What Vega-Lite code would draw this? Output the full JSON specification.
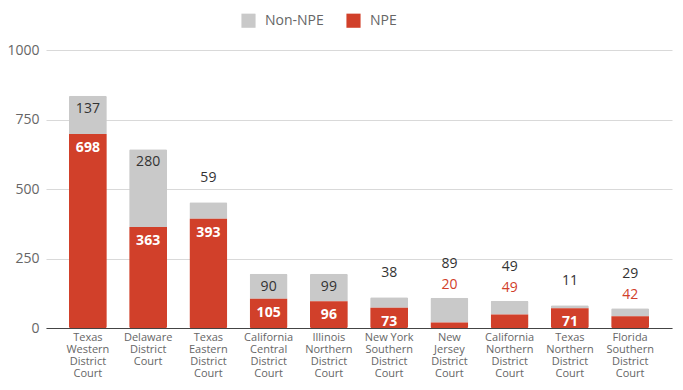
{
  "$schema": "https://vega.github.io/schema/vega-lite/v6.json",
  "width": 683,
  "height": 390,
  "autosize": {"type": "fit", "contains": "padding"},
  "padding": {"left": 6, "right": 11, "top": 43, "bottom": 12},
  "config": {"font": "Open Sans", "view": {"stroke": null}},
  "data": {
    "values": [
      {"court": "Texas Western District Court", "NPE": 698, "Non-NPE": 137},
      {"court": "Delaware District Court", "NPE": 363, "Non-NPE": 280},
      {"court": "Texas Eastern District Court", "NPE": 393, "Non-NPE": 59},
      {"court": "California Central District Court", "NPE": 105, "Non-NPE": 90},
      {"court": "Illinois Northern District Court", "NPE": 96, "Non-NPE": 99},
      {"court": "New York Southern District Court", "NPE": 73, "Non-NPE": 38},
      {"court": "New Jersey District Court", "NPE": 20, "Non-NPE": 89},
      {"court": "California Northern District Court", "NPE": 49, "Non-NPE": 49},
      {"court": "Texas Northern District Court", "NPE": 71, "Non-NPE": 11},
      {"court": "Florida Southern District Court", "NPE": 42, "Non-NPE": 29}
    ]
  },
  "transform": [{"calculate": "datum.NPE + datum['Non-NPE']", "as": "total"}],
  "encoding": {
    "x": {
      "field": "court",
      "type": "nominal",
      "sort": null,
      "scale": {"paddingInner": 0.37, "paddingOuter": 0.38},
      "axis": {
        "title": null,
        "labelAngle": 0,
        "labelColor": "#666666",
        "labelFontSize": 11,
        "labelLineHeight": 12,
        "labelPadding": 3,
        "labelBaseline": "top",
        "ticks": false,
        "domainColor": "#444444",
        "domainWidth": 1,
        "labelExpr": "datum.value == 'New York Southern District Court' ? ['New York','Southern','District','Court'] : split(datum.value, ' ')"
      }
    }
  },
  "layer": [
    {
      "transform": [
        {"fold": ["Non-NPE", "NPE"], "as": ["series", "value"]},
        {"calculate": "datum.series == 'NPE' ? 0 : 1", "as": "ord"}
      ],
      "mark": {"type": "bar", "cornerRadius": 1.5},
      "encoding": {
        "y": {
          "field": "value",
          "type": "quantitative",
          "stack": "zero",
          "scale": {"domain": [0, 1000]},
          "axis": {
            "title": null,
            "values": [0, 250, 500, 750, 1000],
            "format": "d",
            "domain": false,
            "ticks": false,
            "gridColor": "#d9d9d9",
            "labelColor": "#666666",
            "labelFontSize": 14,
            "labelPadding": 7
          }
        },
        "color": {
          "field": "series",
          "type": "nominal",
          "scale": {"domain": ["Non-NPE", "NPE"], "range": ["#c9c9c9", "#d1402a"]},
          "legend": {
            "title": null,
            "orient": "none",
            "legendX": 195,
            "legendY": -37,
            "direction": "horizontal",
            "symbolType": "square",
            "symbolSize": 200,
            "symbolStrokeWidth": 0,
            "labelFontSize": 14,
            "labelColor": "#666666",
            "columnPadding": 22,
            "labelOffset": 9
          }
        },
        "order": {"field": "ord", "type": "quantitative"}
      }
    },
    {
      "transform": [{"filter": "datum.NPE >= 70"}],
      "mark": {"type": "text", "baseline": "middle", "dy": 14, "color": "white", "fontWeight": "bold", "fontSize": 14},
      "encoding": {"y": {"field": "NPE", "type": "quantitative"}, "text": {"field": "NPE"}}
    },
    {
      "transform": [{"filter": "datum.NPE < 70"}],
      "mark": {"type": "text", "baseline": "middle", "dy": -13, "color": "#d1402a", "fontSize": 14},
      "encoding": {"y": {"field": "total", "type": "quantitative"}, "text": {"field": "NPE"}}
    },
    {
      "transform": [{"filter": "datum['Non-NPE'] >= 90"}],
      "mark": {"type": "text", "baseline": "middle", "dy": 13, "color": "#333333", "fontSize": 14},
      "encoding": {"y": {"field": "total", "type": "quantitative"}, "text": {"field": "Non-NPE"}}
    },
    {
      "transform": [{"filter": "datum['Non-NPE'] < 90 && datum.NPE >= 70"}],
      "mark": {"type": "text", "baseline": "middle", "dy": -24, "color": "#333333", "fontSize": 14},
      "encoding": {"y": {"field": "total", "type": "quantitative"}, "text": {"field": "Non-NPE"}}
    },
    {
      "transform": [{"filter": "datum['Non-NPE'] < 90 && datum.NPE < 70"}],
      "mark": {"type": "text", "baseline": "middle", "dy": -34, "color": "#333333", "fontSize": 14},
      "encoding": {"y": {"field": "total", "type": "quantitative"}, "text": {"field": "Non-NPE"}}
    }
  ]
}
